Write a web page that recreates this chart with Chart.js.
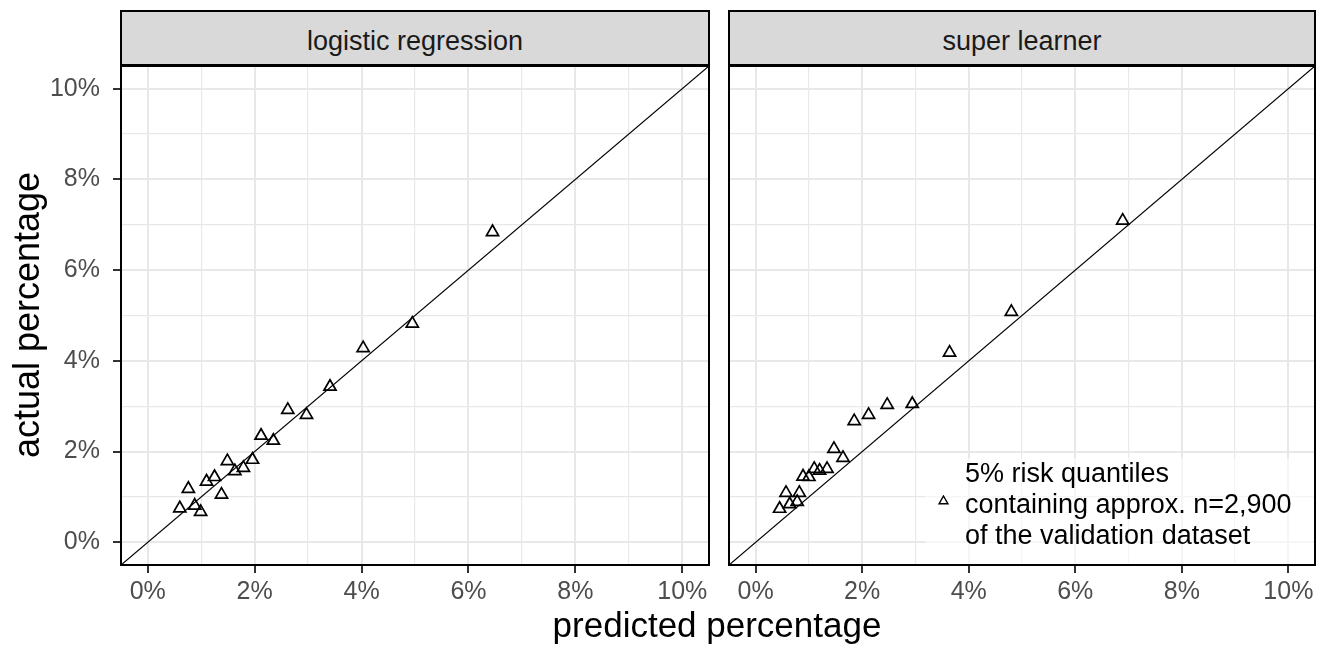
<!DOCTYPE html>
<html>
<head>
<meta charset="utf-8">
<script src="https://cdn.jsdelivr.net/npm/chart.js@4.4.0/dist/chart.umd.min.js"></script>
<style>
body{margin:0;background:#fff;width:1331px;height:648px;overflow:hidden;position:relative;font-family:'Liberation Sans',Arial,sans-serif}
canvas{position:absolute;top:0}
.strip{position:absolute;top:10px;height:56px;box-sizing:border-box;border:2px solid #000;background:#d9d9d9;color:#1a1a1a;font-size:27px;line-height:58px;text-align:center}
.title{position:absolute;color:#000;font-size:35px;line-height:40px;text-align:center;white-space:nowrap}
#legendBox{position:absolute;left:925px;top:458px;width:389px;height:106px;background:rgba(255,255,255,0.55)}
#legendText{position:absolute;left:965px;top:458px;font-size:27px;line-height:31px;color:#000;white-space:nowrap}
#legendKey{position:absolute;left:938px;top:495px}
</style>
</head>
<body>
<canvas id="chart1" width="720" height="620" style="left:0"></canvas>
<canvas id="chart2" width="605" height="620" style="left:720px"></canvas>
<div class="strip" id="strip1" style="left:120px;width:590px"></div>
<div class="strip" id="strip2" style="left:728px;width:588px"></div>
<div class="title" style="left:517px;top:605px;width:400px">predicted percentage</div>
<div class="title" style="left:-173px;top:295px;width:400px;font-size:36px;transform:rotate(-90deg)">actual percentage</div>
<div id="legendBox"></div>
<svg id="legendKey" width="11" height="10"><polygon points="5.5,1 10,8.8 1,8.8" fill="none" stroke="#000" stroke-width="1.4"/></svg>
<div id="legendText">5% risk quantiles<br>containing approx. n=2,900<br>of the validation dataset</div>
<script>
const categories = ['logistic regression', 'super learner'];

// logistic regression: predicted vs actual (%)
const lrPredicted = [0.60, 0.76, 0.88, 0.99, 1.10, 1.25, 1.38, 1.49, 1.63, 1.79, 1.96, 2.12, 2.35, 2.62, 2.97, 3.41, 4.03, 4.95, 6.45];
const lrActual    = [0.75, 1.18, 0.81, 0.67, 1.34, 1.44, 1.05, 1.79, 1.57, 1.64, 1.82, 2.35, 2.24, 2.92, 2.81, 3.43, 4.28, 4.82, 6.84];

// super learner
const slPredicted = [0.45, 0.57, 0.64, 0.78, 0.82, 0.89, 1.00, 1.10, 1.20, 1.34, 1.47, 1.64, 1.85, 2.12, 2.47, 2.94, 3.64, 4.80, 6.89];
const slActual    = [0.74, 1.09, 0.84, 0.89, 1.09, 1.45, 1.44, 1.62, 1.58, 1.62, 2.06, 1.86, 2.67, 2.81, 3.03, 3.05, 4.18, 5.08, 7.09];

const tickValues = [0, 1, 2, 3, 4, 5, 6, 7, 8, 9, 10];
const tickLabels = ['0%', '', '2%', '', '4%', '', '6%', '', '8%', '', '10%'];
const axisMin = -0.5;
const axisMax = 10.5;

document.getElementById('strip1').textContent = categories[0];
document.getElementById('strip2').textContent = categories[1];

const fontFamily = "'Liberation Sans', Arial, sans-serif";

const panelBorder = {
    id: 'panelBorder',
    afterDraw(chart) {
        const a = chart.chartArea;
        const ctx = chart.ctx;
        ctx.save();
        ctx.strokeStyle = '#000';
        ctx.lineWidth = 2;
        ctx.strokeRect(a.left, a.top, a.right - a.left, a.bottom - a.top);
        ctx.restore();
    }
};

function toPoints(xs, ys) {
    return xs.map((x, i) => ({ x: x, y: ys[i] }));
}

function axis(showLabels, fitSize, horizontal) {
    return {
        type: 'linear',
        min: axisMin,
        max: axisMax,
        afterBuildTicks: s => { s.ticks = tickValues.map(v => ({ value: v })); },
        afterFit: s => { if (horizontal) s.height = fitSize; else s.width = fitSize; },
        border: { display: false },
        grid: {
            color: '#e8e8e8',
            lineWidth: c => (c.tick && c.tick.value % 2 === 0) ? 2 : 1.2,
            drawTicks: showLabels,
            tickLength: 8,
            tickWidth: 2,
            tickColor: c => (c.tick && c.tick.value % 2 === 0) ? '#333333' : 'rgba(0,0,0,0)'
        },
        ticks: {
            display: showLabels,
            autoSkip: false,
            maxRotation: 0,
            padding: horizontal ? 4 : 13,
            color: '#4d4d4d',
            font: { family: fontFamily, size: 25 },
            callback: (v, i) => tickLabels[i]
        }
    };
}

function makeChart(id, xs, ys, padding, showY) {
    return new Chart(document.getElementById(id), {
        type: 'scatter',
        data: {
            datasets: [
                {
                    type: 'line',
                    data: [{ x: axisMin, y: axisMin }, { x: axisMax, y: axisMax }],
                    borderColor: '#000',
                    borderWidth: 1.2,
                    pointRadius: 0
                },
                {
                    data: toPoints(xs, ys),
                    pointStyle: 'triangle',
                    pointRadius: 7,
                    borderWidth: 1.7,
                    borderColor: '#000',
                    backgroundColor: 'rgba(0,0,0,0)'
                }
            ]
        },
        options: {
            responsive: false,
            animation: false,
            layout: { padding: padding },
            plugins: { legend: { display: false }, tooltip: { enabled: false } },
            scales: {
                x: axis(true, 55, true),
                y: axis(showY, showY ? 121 : 0, false)
            }
        },
        plugins: [panelBorder]
    });
}

makeChart('chart1', lrPredicted, lrActual, { top: 66, right: 11, left: 0, bottom: 0 }, true);
makeChart('chart2', slPredicted, slActual, { top: 66, right: 10, left: 9, bottom: 0 }, false);
</script>
</body>
</html>
